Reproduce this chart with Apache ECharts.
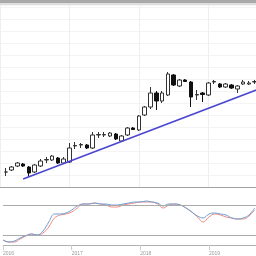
<!DOCTYPE html>
<html>
<head>
<meta charset="utf-8">
<script src="https://cdn.jsdelivr.net/npm/echarts@6/dist/echarts.min.js"></script>
<style>html,body{margin:0;padding:0;background:#fff;}#c{width:256px;height:256px;}</style>
</head>
<body>
<div id="c"></div>
<script>
// Month index: 0 = Jan 2016
var months = [1,2,3,4,5,6,7,8,9,10,11,12,13,14,15,16,17,18,19,20,21,22,23,24,25,26,27,28,29,30,31,32,33,34,35,36,37,38,39,40,41,42,43,44];
var openV  = [27,29,33,35,32,27,33,39,39,41,36,37,53,54,54,51,64,64,63,65,58,64,71,69,84,92,106,98,104,124,113,119,117,104,106,104,117,115,112,114,110,115,115,117];
var closeV = [27,32,36,33,26,34,38,39.5,43,36,40,51,53.5,54.5,51,64,64.5,64.5,66,60,63,71,69.5,83,92,106,98,106,125,114,119,117.5,102,104.5,104.5,116,117.5,112,115,111,113,117,116,117.5];
var lowV   = [23,28,32,32,22,26,32,36,38,35,35,36,50,51,50,50,61,62,62,59,57,63,69,68,83,90,89,96,103,113,112,117,92,99,97,103,115,111,111,110,106,114,114,115];
var highV  = [31,33,37,36,33,35,40,42,44,42,42,56,57,56,55,67,67,67,67,66,64,72,72,84,93,112,108,108,127,125,120,120,118,109,107,117,119,116,116,115,114,119,118,119];

// Trend line endpoints
var trendX = [4, 44.3];
var trendY = [20, 109];

// Oscillator (month index 0..44)
var oscMonths = [0,1,2,3,4,5,6,7,8,9,10,11,12,13,14,15,16,17,18,19,20,21,22,23,24,25,26,27,28,29,30,31,32,33,34,35,36,37,38,39,40,41,42,43,44];
var kLine = [10,6,8,14,19,22,20,28,46,62,62,64,70,78,82,82,84,82,82,80,80,82,84,86,86,88,86,84,78,82,82,80,74,66,58,54,62,64,62,60,54,52,54,60,74];
var dLine = [10,6,6,12,18,22,20,24,36,54,60,62,66,74,82,82,84,82,80,76,76,80,82,84,86,86,86,82,74,80,82,80,74,66,56,46,56,62,60,56,54,52,52,58,70];
var levels = [80, 20];
var yearLabels = ['2016','2017','2018','2019'];

var candleData = months.map(function(m,i){return [m, openV[i], closeV[i], lowV[i], highV[i]];});
var kData = oscMonths.map(function(m,i){return [m, kLine[i]];});
var dData = oscMonths.map(function(m,i){return [m, dLine[i]];});
var trendData = trendX.map(function(x,i){return [x, trendY[i]];});

var chart = echarts.init(document.getElementById('c'), null, {renderer:'canvas'});
var xMax = 44.23;
chart.setOption({
  animation: false,
  backgroundColor: '#fff',
  graphic: [
    {type:'rect', shape:{x:0,y:0,width:256,height:3}, style:{fill:'#a9a9a9'}, z:100},
    {type:'rect', shape:{x:0,y:3,width:256,height:2}, style:{fill:'#dedede'}, z:100}
  ],
  grid: [
    {left:-2, right:0, top:5, height:182},
    {left:-2, right:0, top:187, height:63}
  ],
  xAxis: [
    {type:'value', gridIndex:0, min:0, max:xMax, interval:12,
     axisLine:{show:true, lineStyle:{color:'#a0a0a0', width:1}}, axisTick:{show:false}, axisLabel:{show:false},
     splitLine:{show:true, lineStyle:{color:'#eeeeee', width:1}}},
    {type:'value', gridIndex:1, min:0, max:xMax, interval:12,
     axisLine:{show:true, lineStyle:{color:'#b0b0b0', width:1}},
     axisTick:{show:true, length:5, lineStyle:{color:'#cccccc'}},
     axisLabel:{show:true, fontSize:5, color:'#999', margin:1, align:'left', showMinLabel:true, showMaxLabel:false,
       formatter:function(v){var i=Math.round(v/12); return (Math.abs(v-i*12)<0.01 && yearLabels[i]) ? yearLabels[i] : '';}},
     splitLine:{show:false}}
  ],
  yAxis: [
    {type:'value', gridIndex:0, min:12, max:194, interval:12,
     axisLine:{show:false}, axisTick:{show:false}, axisLabel:{show:false},
     splitLine:{show:true, lineStyle:{color:'#f4f4f4', width:1}}},
    {type:'value', gridIndex:1, min:-10, max:116,
     axisLine:{show:false}, axisTick:{show:false}, axisLabel:{show:false}, splitLine:{show:false}}
  ],
  series: [
    {type:'candlestick', xAxisIndex:0, yAxisIndex:0, data:candleData, encode:{x:0, y:[1,2,3,4]},
     barWidth:4,
     itemStyle:{color:'#ffffff', color0:'#111111', borderColor:'#333333', borderColor0:'#111111', borderColorDoji:'#333333', borderWidth:1}},
    {type:'line', xAxisIndex:0, yAxisIndex:0, data:trendData, symbol:'none',
     lineStyle:{color:'#4a46d0', width:1.5}, clip:true, z:3},
    {type:'line', xAxisIndex:1, yAxisIndex:1, data:dData, symbol:'none', smooth:0.4,
     lineStyle:{color:'#f08a84', width:1},
     markLine:{silent:true, symbol:['none','none'], label:{show:false},
       lineStyle:{color:'#aaaaaa', width:1, type:'solid'},
       data: levels.map(function(l){return {yAxis:l};})}},
    {type:'line', xAxisIndex:1, yAxisIndex:1, data:kData, symbol:'none', smooth:0.4,
     lineStyle:{color:'#6b9fd4', width:1}}
  ]
});
</script>
</body>
</html>
